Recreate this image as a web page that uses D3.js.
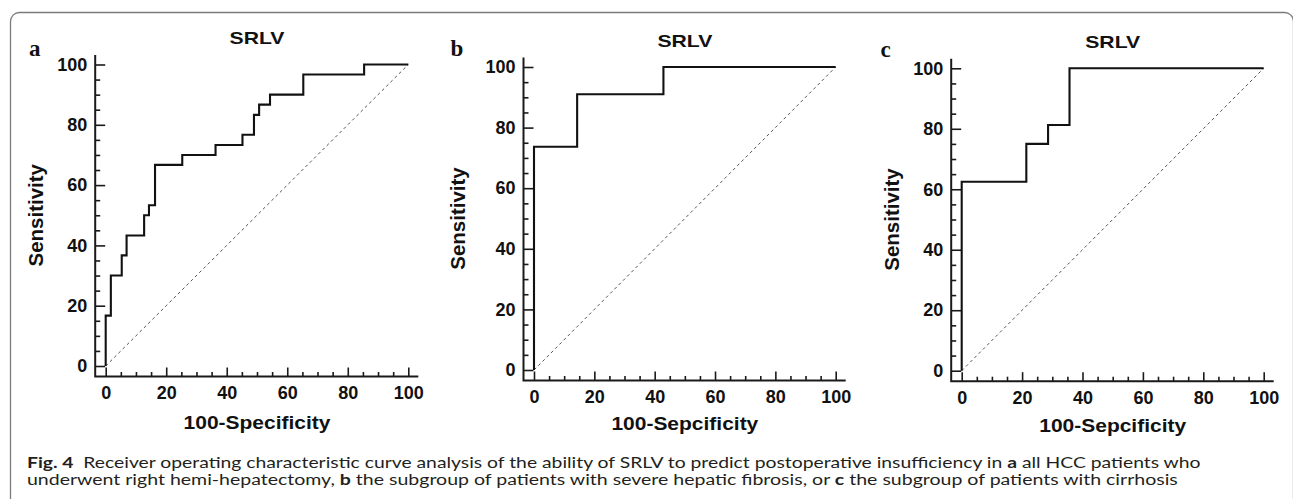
<!DOCTYPE html>
<html>
<head>
<meta charset="utf-8">
<script src="https://cdn.jsdelivr.net/npm/d3@7"></script>
<style>
  body { margin: 0; background: #fff; }
  svg { display: block; }
  .tick text { font-family: "Liberation Sans", Arial, sans-serif; font-weight: bold; font-size: 18px; fill: #111; }
  .tick line { stroke: #1a1a1a; stroke-width: 1.6; }
</style>
</head>
<body>
<svg id="fig"></svg>
<script>
// ROC operating points (100-specificity, sensitivity)
const fprA  = [0, 0, 1.7, 5.3, 6.9, 12.7, 14.3, 16.3, 25.3, 36.3, 45.2, 49.0, 50.7, 54.3, 65.3, 85.4, 100];
const sensA = [0, 16.7, 30.0, 36.7, 43.3, 50.0, 53.3, 66.7, 70.0, 73.3, 76.7, 83.3, 86.7, 90.0, 96.7, 100, 100];

const fprB  = [0, 0, 14.3, 42.9, 100];
const sensB = [0, 73.7, 91.0, 100, 100];

const fprC  = [0, 0, 21.4, 28.6, 35.7, 100];
const sensC = [0, 62.5, 75.0, 81.25, 100, 100];

const majorTicks = [0, 20, 40, 60, 80, 100];
const minorTicks = d3.range(0, 101, 5).filter(v => v % 20 !== 0);

const panelTitles = ['SRLV', 'SRLV', 'SRLV'];
const panelLetters = ['a', 'b', 'c'];
const xTitles = ['100-Specificity', '100-Sepcificity', '100-Sepcificity'];
const yTitle = 'Sensitivity';

const captionLine1 = [
  {t: 'Fig. 4', b: true},
  {t: '\u00a0\u00a0Receiver operating characteristic curve analysis of the ability of SRLV to predict postoperative insufficiency in ', b: false},
  {t: 'a', b: true},
  {t: ' all HCC patients who', b: false}
];
const captionLine2 = [
  {t: 'underwent right hemi-hepatectomy, ', b: false},
  {t: 'b', b: true},
  {t: ' the subgroup of patients with severe hepatic fibrosis, or ', b: false},
  {t: 'c', b: true},
  {t: ' the subgroup of patients with cirrhosis', b: false}
];

const W = 1293, H = 499;
const svg = d3.select('#fig').attr('width', W).attr('height', H);

// figure frame (rounded box)
svg.append('rect')
    .attr('x', 10.5).attr('y', 12.5)
    .attr('width', 1283).attr('height', 620)
    .attr('rx', 9)
    .attr('fill', 'none')
    .attr('stroke', '#7a7a7a')
    .attr('stroke-width', 1.3);

// stretch a text horizontally so it spans the given width
function fitWidth(sel, cx, cy, width, anchor) {
  const w = sel.node().getComputedTextLength();
  const sx = width / w;
  sel.attr('x', 0).attr('y', 0)
     .attr('text-anchor', anchor)
     .attr('transform', `translate(${cx},${cy}) scale(${sx},1)`);
}

const panels = [
  {fpr: fprA, sens: sensA, left: 105.7, right: 408.3, top: 64.5, bottom: 366, letterX: 29, letterY: 56, titleY: 44, xTitleY: 429, yTitleX: 42.7},
  {fpr: fprB, sens: sensB, left: 534, right: 835.7, top: 67, bottom: 370, letterX: 450.5, letterY: 56, titleY: 47.3, xTitleY: 430, yTitleX: 465},
  {fpr: fprC, sens: sensC, left: 961.7, right: 1263.7, top: 68.3, bottom: 370.7, letterX: 880.5, letterY: 56.7, titleY: 48.3, xTitleY: 431.7, yTitleX: 899}
];

panels.forEach((p, i) => {
  const g = svg.append('g');
  const x = d3.scaleLinear().domain([0, 100]).range([p.left, p.right]);
  const y = d3.scaleLinear().domain([0, 100]).range([p.bottom, p.top]);
  const gap = 10.5;
  const axX = p.left - gap, axY = p.bottom + gap;

  // y axis
  g.append('g')
      .attr('transform', `translate(${axX},0)`)
      .call(d3.axisLeft(y).tickValues(majorTicks).tickSize(-10).tickPadding(8))
      .call(a => a.select('.domain').remove());
  g.append('g')
      .attr('transform', `translate(${axX},0)`)
      .call(d3.axisLeft(y).tickValues(minorTicks).tickSize(-5).tickFormat(''))
      .call(a => a.select('.domain').remove());

  // x axis
  g.append('g')
      .attr('transform', `translate(0,${axY})`)
      .call(d3.axisBottom(x).tickValues(majorTicks).tickSize(-9).tickPadding(10))
      .call(a => a.select('.domain').remove());
  g.append('g')
      .attr('transform', `translate(0,${axY})`)
      .call(d3.axisBottom(x).tickValues(minorTicks).tickSize(-4.5).tickFormat(''))
      .call(a => a.select('.domain').remove());

  // axis lines, offset from the data area
  g.append('path')
      .attr('d', `M${axX},${p.top - 9.5}V${axY}H${p.right + 10}`)
      .attr('fill', 'none')
      .attr('stroke', '#1a1a1a')
      .attr('stroke-width', 2);

  // reference diagonal
  g.append('line')
      .attr('x1', x(0)).attr('y1', y(0))
      .attr('x2', x(100)).attr('y2', y(100))
      .attr('stroke', '#555')
      .attr('stroke-width', 1)
      .attr('stroke-dasharray', '3,3');

  // ROC curve
  const pts = p.fpr.map((v, k) => [v, p.sens[k]]);
  g.append('path')
      .datum(pts)
      .attr('d', d3.line().x(d => x(d[0])).y(d => y(d[1])).curve(d3.curveStepAfter))
      .attr('fill', 'none')
      .attr('stroke', '#111')
      .attr('stroke-width', 2.1);

  // title
  const t = g.append('text')
      .attr('font-family', '"Liberation Sans", Arial, sans-serif')
      .attr('font-weight', 'bold')
      .attr('font-size', 16)
      .attr('fill', '#111')
      .text(panelTitles[i]);
  fitWidth(t, (p.left + p.right) / 2, p.titleY, 55, 'middle');

  // x title
  const xt = g.append('text')
      .attr('font-family', '"Liberation Sans", Arial, sans-serif')
      .attr('font-weight', 'bold')
      .attr('font-size', 18.5)
      .attr('fill', '#111')
      .text(xTitles[i]);
  fitWidth(xt, (p.left + p.right) / 2, p.xTitleY, 147, 'middle');

  // y title
  g.append('text')
      .attr('transform', `translate(${p.yTitleX},${(p.top + p.bottom) / 2}) rotate(-90)`)
      .attr('text-anchor', 'middle')
      .attr('font-family', '"Liberation Sans", Arial, sans-serif')
      .attr('font-weight', 'bold')
      .attr('font-size', 20.5)
      .attr('fill', '#111')
      .text(yTitle);

  // panel letter
  g.append('text')
      .attr('x', p.letterX).attr('y', p.letterY)
      .attr('font-family', '"Liberation Serif", "Times New Roman", serif')
      .attr('font-weight', 'bold')
      .attr('font-size', 23)
      .attr('fill', '#111')
      .text(panelLetters[i]);
});

// caption
function captionLine(parts, yPos, width) {
  const txt = svg.append('text')
      .attr('font-family', 'Lato, "Noto Sans", sans-serif')
      .attr('font-size', 15.5)
      .attr('fill', '#231f20');
  parts.forEach(s => {
    txt.append('tspan')
        .attr('font-weight', s.b ? 'bold' : 'normal')
        .text(s.t);
  });
  fitWidth(txt, 27, yPos, width, 'start');
}
captionLine(captionLine1, 467.5, 1174.5);
captionLine(captionLine2, 484.5, 1151.5);
</script>
</body>
</html>
